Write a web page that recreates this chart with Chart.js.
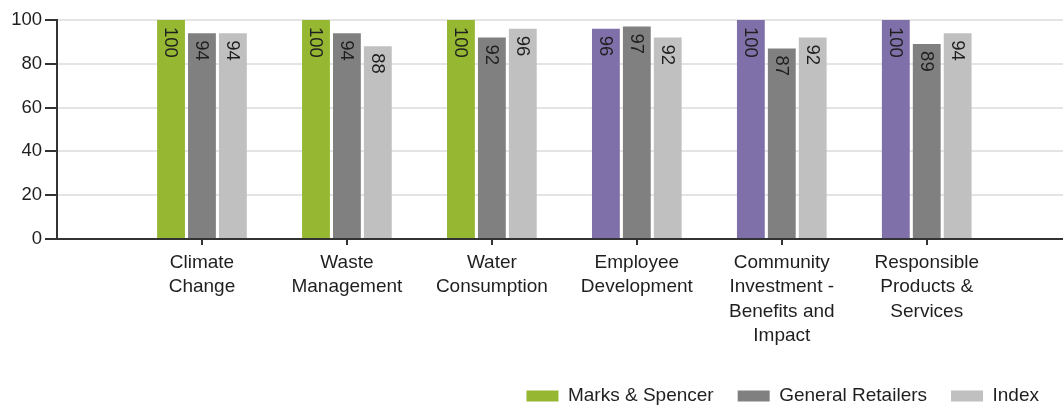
<!DOCTYPE html>
<html>
<head>
<meta charset="utf-8">
<script src="https://cdn.jsdelivr.net/npm/chart.js@4/dist/chart.umd.min.js"></script>
<style>
  html, body { margin: 0; padding: 0; background: #fff; }
  #wrap { width: 1063px; height: 406px; }
</style>
</head>
<body>
<div id="wrap"><canvas id="chart"></canvas></div>
<script>
// categories (multi-line labels as shown under the axis)
const categories = [
    ["Climate", "Change"],
    ["Waste", "Management"],
    ["Water", "Consumption"],
    ["Employee", "Development"],
    ["Community", "Investment -", "Benefits and", "Impact"],
    ["Responsible", "Products &", "Services"]
];
const marksSpencer = [100, 100, 100, 96, 100, 100];
const generalRetailers = [94, 94, 92, 97, 87, 89];
const indexValues = [94, 88, 96, 92, 92, 94];
const yTicks = [0, 20, 40, 60, 80, 100];

const GREEN = "#95b731";
const PURPLE = "#8070aa";
const DARK = "#808080";
const LIGHT = "#c0c0c0";
const TEXT = "#1f1f1f";
const FONT = "'Liberation Sans', Arial, sans-serif";

// categories sit at x = 1..6 on a numeric axis, leaving room either side
const toPoints = (arr) => arr.map((v, i) => ({ x: i + 1, y: v }));

const barLabels = {
    id: "barLabels",
    afterDatasetsDraw(chart) {
        const c = chart.ctx;
        c.save();
        c.fillStyle = TEXT;
        c.font = "18.5px " + FONT;
        c.textAlign = "left";
        c.textBaseline = "middle";
        chart.data.datasets.forEach((ds, i) => {
            const meta = chart.getDatasetMeta(i);
            meta.data.forEach((bar, j) => {
                const v = ds.data[j].y;
                c.save();
                c.translate(bar.x, bar.y + 7);
                c.rotate(Math.PI / 2);
                c.fillText(String(v), 0, 1);
                c.restore();
            });
        });
        c.restore();
    }
};

const ctx = document.getElementById("chart");

const config = {
    type: "bar",
    data: {
        datasets: [{
            label: "Marks & Spencer",
            data: toPoints(marksSpencer),
            backgroundColor: (c) => (c.dataIndex >= 3 ? PURPLE : GREEN)
        }, {
            label: "General Retailers",
            data: toPoints(generalRetailers),
            backgroundColor: DARK
        }, {
            label: "Index",
            data: toPoints(indexValues),
            backgroundColor: LIGHT
        }]
    },
    options: {
        responsive: true,
        maintainAspectRatio: false,
        animation: false,
        layout: {
            padding: { top: 20, right: 0, bottom: -9.5, left: 0 }
        },
        datasets: {
            bar: {
                categoryPercentage: 0.64,
                barPercentage: 0.9
            }
        },
        plugins: {
            tooltip: { enabled: false },
            legend: {
                position: "bottom",
                align: "end",
                labels: {
                    boxWidth: 32,
                    boxHeight: 11,
                    padding: 24,
                    color: TEXT,
                    font: { family: FONT, size: 19 }
                }
            }
        },
        scales: {
            x: {
                type: "linear",
                min: 0,
                max: 6.94,
                offset: false,
                afterBuildTicks: (scale) => { scale.ticks = categories.map((c, i) => ({ value: i + 1 })); },
                grid: {
                    offset: false,
                    drawOnChartArea: false,
                    tickLength: 6,
                    lineWidth: 2,
                    tickColor: "#333"
                },
                border: { color: "#333", width: 2 },
                ticks: {
                    autoSkip: false,
                    maxRotation: 0,
                    padding: 6,
                    color: TEXT,
                    font: { family: FONT, size: 19, lineHeight: 1.27 },
                    callback: (v) => categories[v - 1] || ""
                },
                afterFit: (scale) => { scale.height = 123.5; }
            },
            y: {
                min: 0,
                max: 100,
                afterBuildTicks: (scale) => { scale.ticks = yTicks.map(v => ({ value: v })); },
                grid: {
                    color: "#e4e4e4",
                    lineWidth: 2,
                    tickColor: "#333",
                    tickLength: 12
                },
                border: { color: "#333", width: 2 },
                ticks: {
                    padding: 3,
                    color: TEXT,
                    font: { family: FONT, size: 18.5 }
                },
                afterFit: (scale) => { scale.width = 57; }
            }
        }
    },
    plugins: [barLabels]
};

const chartBars = new Chart(ctx, config);
</script>
</body>
</html>
